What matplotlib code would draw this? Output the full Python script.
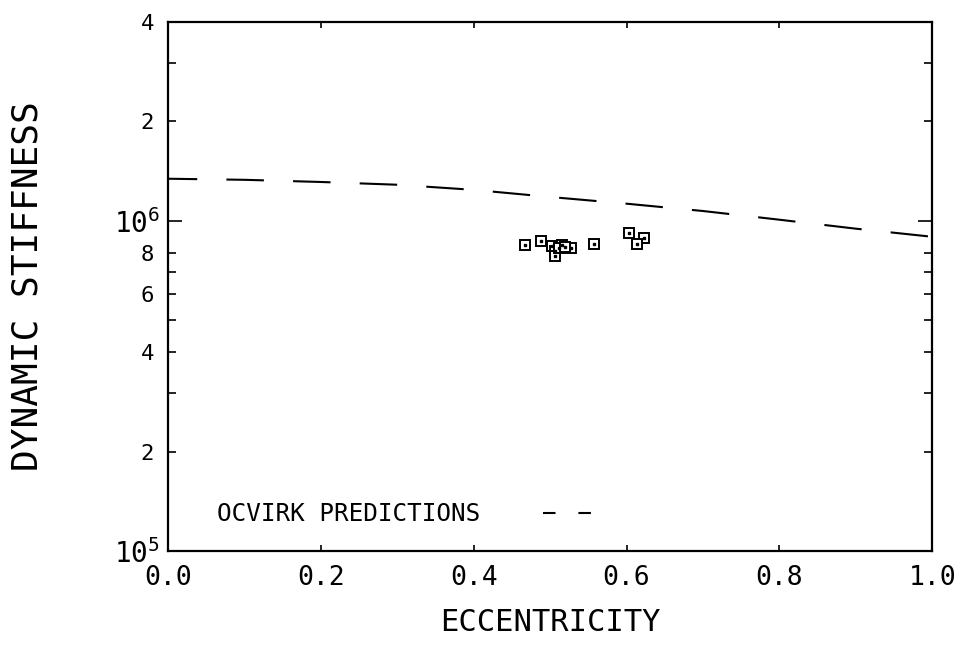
import matplotlib
matplotlib.use('Agg')
import matplotlib.pyplot as plt
from matplotlib.lines import Line2D
from matplotlib.ticker import FixedLocator, FixedFormatter
import numpy as np

# plotter-style font
plt.rcParams['font.family'] = 'DejaVu Sans Mono'
plt.rcParams['mathtext.fontset'] = 'custom'
plt.rcParams['mathtext.rm'] = 'DejaVu Sans Mono'

# Ocvirk prediction curve
ecc_pred = [0.0, 0.1, 0.2, 0.3, 0.4, 0.5, 0.6, 0.7, 0.8, 0.9, 1.0]
stiff_pred = [1.34e6, 1.33e6, 1.31e6, 1.285e6, 1.24e6, 1.18e6, 1.126e6, 1.07e6, 1.007e6, 0.946e6, 0.894e6]

# measured points
ecc_meas = [0.467, 0.488, 0.503, 0.516, 0.527, 0.507, 0.507, 0.512, 0.520, 0.558, 0.603, 0.623, 0.614]
stiff_meas = [0.845e6, 0.869e6, 0.839e6, 0.845e6, 0.828e6, 0.811e6, 0.783e6, 0.825e6, 0.832e6, 0.851e6, 0.919e6, 0.888e6, 0.851e6]

x_ticks = [0.0, 0.2, 0.4, 0.6, 0.8, 1.0]
x_ticklabels = ['0.0', '0.2', '0.4', '0.6', '0.8', '1.0']
y_major = [1e5, 1e6]
y_major_labels = [r'$\mathregular{10^5}$', r'$\mathregular{10^6}$']
y_minor = [2e5, 3e5, 4e5, 5e5, 6e5, 7e5, 8e5, 2e6, 3e6, 4e6]
y_minor_labels = ['2', '', '4', '', '6', '', '8', '2', '', '4']

fig = plt.figure(figsize=(9.66, 6.63), dpi=100)
ax = fig.add_axes([0.174, 0.169, 0.791, 0.798])

ax.plot(ecc_pred, stiff_pred, color='black', lw=1.5, linestyle=(4, (18, 14)))
ax.plot(ecc_meas, stiff_meas, linestyle='none', marker='s', markersize=7,
        markerfacecolor='white', markeredgecolor='black', markeredgewidth=1.4)
ax.plot(ecc_meas, stiff_meas, linestyle='none', marker='s', markersize=1.5,
        color='black')

ax.set_yscale('log')
ax.set_xlim(0, 1)
ax.set_ylim(1e5, 4e6)

ax.xaxis.set_major_locator(FixedLocator(x_ticks))
ax.xaxis.set_major_formatter(FixedFormatter(x_ticklabels))
ax.yaxis.set_major_locator(FixedLocator(y_major))
ax.yaxis.set_major_formatter(FixedFormatter(y_major_labels))
ax.yaxis.set_minor_locator(FixedLocator(y_minor))
ax.yaxis.set_minor_formatter(FixedFormatter(y_minor_labels))

ax.tick_params(axis='x', which='major', direction='in', top=True, length=4,
               width=1.2, labelsize=19, pad=10)
ax.tick_params(axis='y', which='major', direction='in', right=True, length=10,
               width=1.2, labelsize=20, pad=6)
ax.tick_params(axis='y', which='minor', direction='in', right=True, length=6,
               width=1.2, labelsize=16, pad=10)
for s in ax.spines.values():
    s.set_linewidth(1.6)

ax.set_xlabel('ECCENTRICITY', fontsize=22, labelpad=12)
ax.set_ylabel('DYNAMIC STIFFNESS', fontsize=26, labelpad=50)

handle = Line2D([], [], color='black', lw=1.5, linestyle=(0, (6, 11)))
ax.legend([handle], ['OCVIRK PREDICTIONS'], loc='lower left',
          bbox_to_anchor=(0.035, 0.005), frameon=False, markerfirst=False,
          fontsize=17.5, handlelength=2.4, handletextpad=2.6)

fig.savefig('out.png', dpi=100)
